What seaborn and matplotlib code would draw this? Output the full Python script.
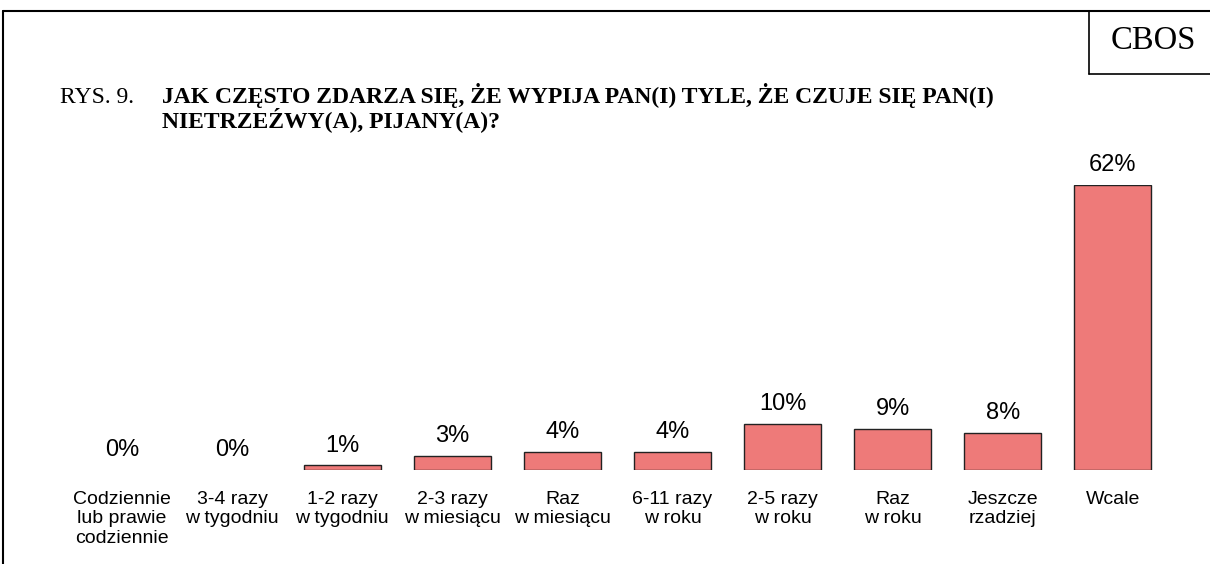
import matplotlib
matplotlib.use("Agg")
import matplotlib.pyplot as plt
import seaborn as sns
import pandas as pd
from matplotlib.lines import Line2D

categories = ["Codziennie\nlub prawie\ncodziennie", "3-4 razy\nw tygodniu", "1-2 razy\nw tygodniu",
              "2-3 razy\nw miesiącu", "Raz\nw miesiącu", "6-11 razy\nw roku", "2-5 razy\nw roku",
              "Raz\nw roku", "Jeszcze\nrzadziej", "Wcale"]
values = [0, 0, 1, 3, 4, 4, 10, 9, 8, 62]
value_labels = ["0%", "0%", "1%", "3%", "4%", "4%", "10%", "9%", "8%", "62%"]
title_prefix = "RYS. 9."
title_lines = ["JAK CZĘSTO ZDARZA SIĘ, ŻE WYPIJA PAN(I) TYLE, ŻE CZUJE SIĘ PAN(I)",
               "NIETRZEŹWY(A), PIJANY(A)?"]
brand = "CBOS"

sns.set_style("white")
plt.rcParams['font.family'] = ['Liberation Sans', 'DejaVu Sans']
plt.rcParams['text.color'] = 'black'
plt.rcParams['xtick.color'] = 'black'

W, H = 1210, 564
fig = plt.figure(figsize=(W / 100, H / 100), dpi=100)
ax_left, ax_right = 67, 1168
ax_bottom, ax_top = 470, 185
ax = fig.add_axes([ax_left / W, 1 - ax_bottom / H, (ax_right - ax_left) / W, (ax_bottom - ax_top) / H])

df = pd.DataFrame({"cat": categories, "val": values})
sns.barplot(data=df, x="cat", y="val", color="#EE7A79", edgecolor="#222222", linewidth=1.0,
            width=0.7, saturation=1, ax=ax)
for p in ax.patches:
    if p.get_height() == 0:
        p.set_visible(False)

ax.set_xlim(-0.5, len(categories) - 0.5)
ax.set_ylim(0, 62)
ax.set_xlabel("")
ax.set_ylabel("")
ax.set_yticks([])
ax.tick_params(axis="x", length=0, pad=15, labelsize=14, labelcolor="black")
for s in ax.spines.values():
    s.set_visible(False)
ax.patch.set_alpha(0)

for i, (v, lab) in enumerate(zip(values, value_labels)):
    ax.annotate(lab, (i, v), xytext=(0, 10), textcoords="offset points",
                ha="center", va="baseline", fontsize=17, color="black")

# frame lines
fig.add_artist(Line2D([3 / W, 1], [1 - 11 / H, 1 - 11 / H], color="black", lw=1.5))
fig.add_artist(Line2D([3 / W, 3 / W], [0, 1 - 11 / H], color="black", lw=1.5))
fig.add_artist(Line2D([1089 / W, 1089 / W], [1 - 11 / H, 1 - 74 / H], color="black", lw=1.2))
fig.add_artist(Line2D([1089 / W, 1], [1 - 74 / H, 1 - 74 / H], color="black", lw=1.2))

serif = ['Liberation Serif', 'DejaVu Serif']
fig.text(1153 / W, 1 - 41 / H, brand, family=serif, fontsize=23.5, ha="center", va="center",
         color="black")
fig.text(60 / W, 1 - 103 / H, title_prefix, family=serif, fontsize=17, ha="left", va="baseline",
         color="black")
fig.text(162 / W, 1 - 103 / H, title_lines[0], family=serif, fontsize=17, fontweight="bold",
         ha="left", va="baseline", color="black")
fig.text(162 / W, 1 - 127 / H, title_lines[1], family=serif, fontsize=17, fontweight="bold",
         ha="left", va="baseline", color="black")

fig.savefig("out.png", dpi=100)
